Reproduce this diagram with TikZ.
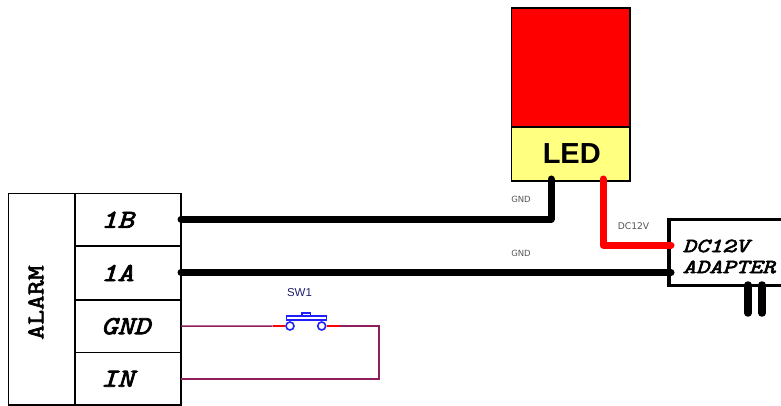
\documentclass[tikz,border=0pt]{standalone}
\usepackage{fontspec}
\setmainfont{Liberation Sans}
\newfontfamily\monofam{Latin Modern Mono}[FakeBold=3,FakeStretch=1.2]
\newfontfamily\monowide{Latin Modern Mono}[FakeBold=3,FakeStretch=1.26]
\newfontfamily\smallfam{DejaVu Sans}
\usetikzlibrary{calc}
\definecolor{wirepurple}{HTML}{8E1F5C}
\definecolor{ledyellow}{HTML}{FFFF80}
\definecolor{swblue}{HTML}{2020FF}
\definecolor{labelgray}{HTML}{555555}
\definecolor{swtext}{HTML}{202070}
\tikzset{
  box/.style={draw=black,line width=1.3pt,inner sep=0pt,outer sep=0pt,anchor=north west,text=black},
  pin/.style={box,inner xsep=26pt,text width=54pt,align=left,font=\monofam\itshape\fontsize{26}{26}\selectfont},
  heavy/.style={line width=7pt,line cap=round,line join=round},
  thin wire/.style={wirepurple,line width=1.5pt,line join=miter},
  stub/.style={red,line width=1.5pt},
  sw/.style={swblue,line width=1.6pt},
  tiny/.style={font=\smallfam\fontsize{8.5}{9}\selectfont,text=labelgray,inner sep=0pt},
  adtext/.style={font=\monowide\itshape\fontsize{20}{20}\selectfont,anchor=west,inner sep=0pt}
}
\begin{document}
\begin{tikzpicture}[x=1pt,y=-1pt]
\useasboundingbox (0,0) rectangle (781,406);
% alarm block
\node[box,minimum width=66.5pt,minimum height=211.5pt] (alarm) at (8.5,193.5) {};
\node[font=\monofam\fontsize{24}{24}\selectfont,rotate=90] (alarmtxt) at (36,302.5) {ALARM};
\node[pin,minimum height=52.5pt] (pb) at (75,193.5) {\raisebox{-1.5pt}{1B}};
\node[pin,minimum height=54pt] (pa) at (75,246) {\raisebox{-1.5pt}{1A}};
\node[pin,minimum height=52.5pt] (pg) at (75,300) {\raisebox{-1.5pt}{GND}};
\node[pin,minimum height=52.5pt] (pi) at (75,352.5) {\raisebox{-1.5pt}{IN}};
% LED
\node[box,fill=red,minimum width=118.5pt,minimum height=119pt] (ledr) at (511.5,8) {};
\node[box,fill=ledyellow,minimum width=118.5pt,minimum height=54pt,font=\bfseries\fontsize{29}{29}\selectfont] (ledy) at (511.5,127) {\hspace*{2pt}LED};
% adapter
\node[box,line width=3.4pt,fill=white,minimum width=130pt,minimum height=66pt] (ad) at (669,219.5) {};
\node[adtext] (adt1) at (682.5,246) {DC12V};
\node[adtext] (adt2) at (682.5,267) {ADAPTER};
% heavy wires
\coordinate (ledgnd) at (551,179);
\coordinate (ledpos) at (603,179);
\coordinate (adpos) at (671,245);
\coordinate (adgnd) at (671,272.5);
\coordinate (b1) at ($(pb.east)+(0,-0.5)$);
\coordinate (a1) at ($(pa.east)+(0,-0.5)$);
\draw[heavy,black] (b1) -| (ledgnd);
\draw[heavy,red] (ledpos) |- (adpos);
\draw[heavy,black] (a1) -- (adgnd);
% plug
\coordinate (pl1) at (748,285);
\coordinate (pl1e) at (748,313);
\coordinate (pl2) at (762,285);
\coordinate (pl2e) at (762,313);
\draw[heavy,black,line width=7.5pt] (pl1) -- (pl1e);
\draw[heavy,black,line width=7.5pt] (pl2) -- (pl2e);
% switch
\node[circle,draw=swblue,line width=1.6pt,fill=white,minimum size=8pt,inner sep=0pt] (swl) at (290,326) {};
\node[circle,draw=swblue,line width=1.6pt,fill=white,minimum size=8pt,inner sep=0pt] (swr) at (321.7,326) {};
\coordinate (sl) at (272.7,326);
\coordinate (sr) at (339.5,326);
\coordinate (corner) at (379,326);
\draw[thin wire] (pg.east) -- (sl);
\draw[thin wire] (sr) -- (corner) |- (pi.east);
\draw[stub] (sl) -- (swl.west);
\draw[stub] (swr.east) -- (sr);
\node[draw=swblue,line width=1.6pt,minimum width=40pt,minimum height=3.5pt,inner sep=0pt] (swbar) at (306.3,318) {};
\coordinate (bt1) at (302,316.3);
\coordinate (bt2) at (302,312.7);
\coordinate (bt3) at (310.6,312.7);
\coordinate (bt4) at (310.6,316.3);
\draw[sw] (bt1) -- (bt2) -- (bt3) -- (bt4);
% labels
\node[font=\fontsize{11.5}{12}\selectfont,text=swtext,inner sep=0pt] (swl1) at (299.5,293) {SW1};
\node[tiny] (l1) at (521,199) {GND};
\node[tiny] (l2) at (521,253) {GND};
\node[tiny,font=\smallfam\fontsize{9.2}{10}\selectfont] (l3) at (633.5,226.5) {DC12V};
\end{tikzpicture}
\end{document}
